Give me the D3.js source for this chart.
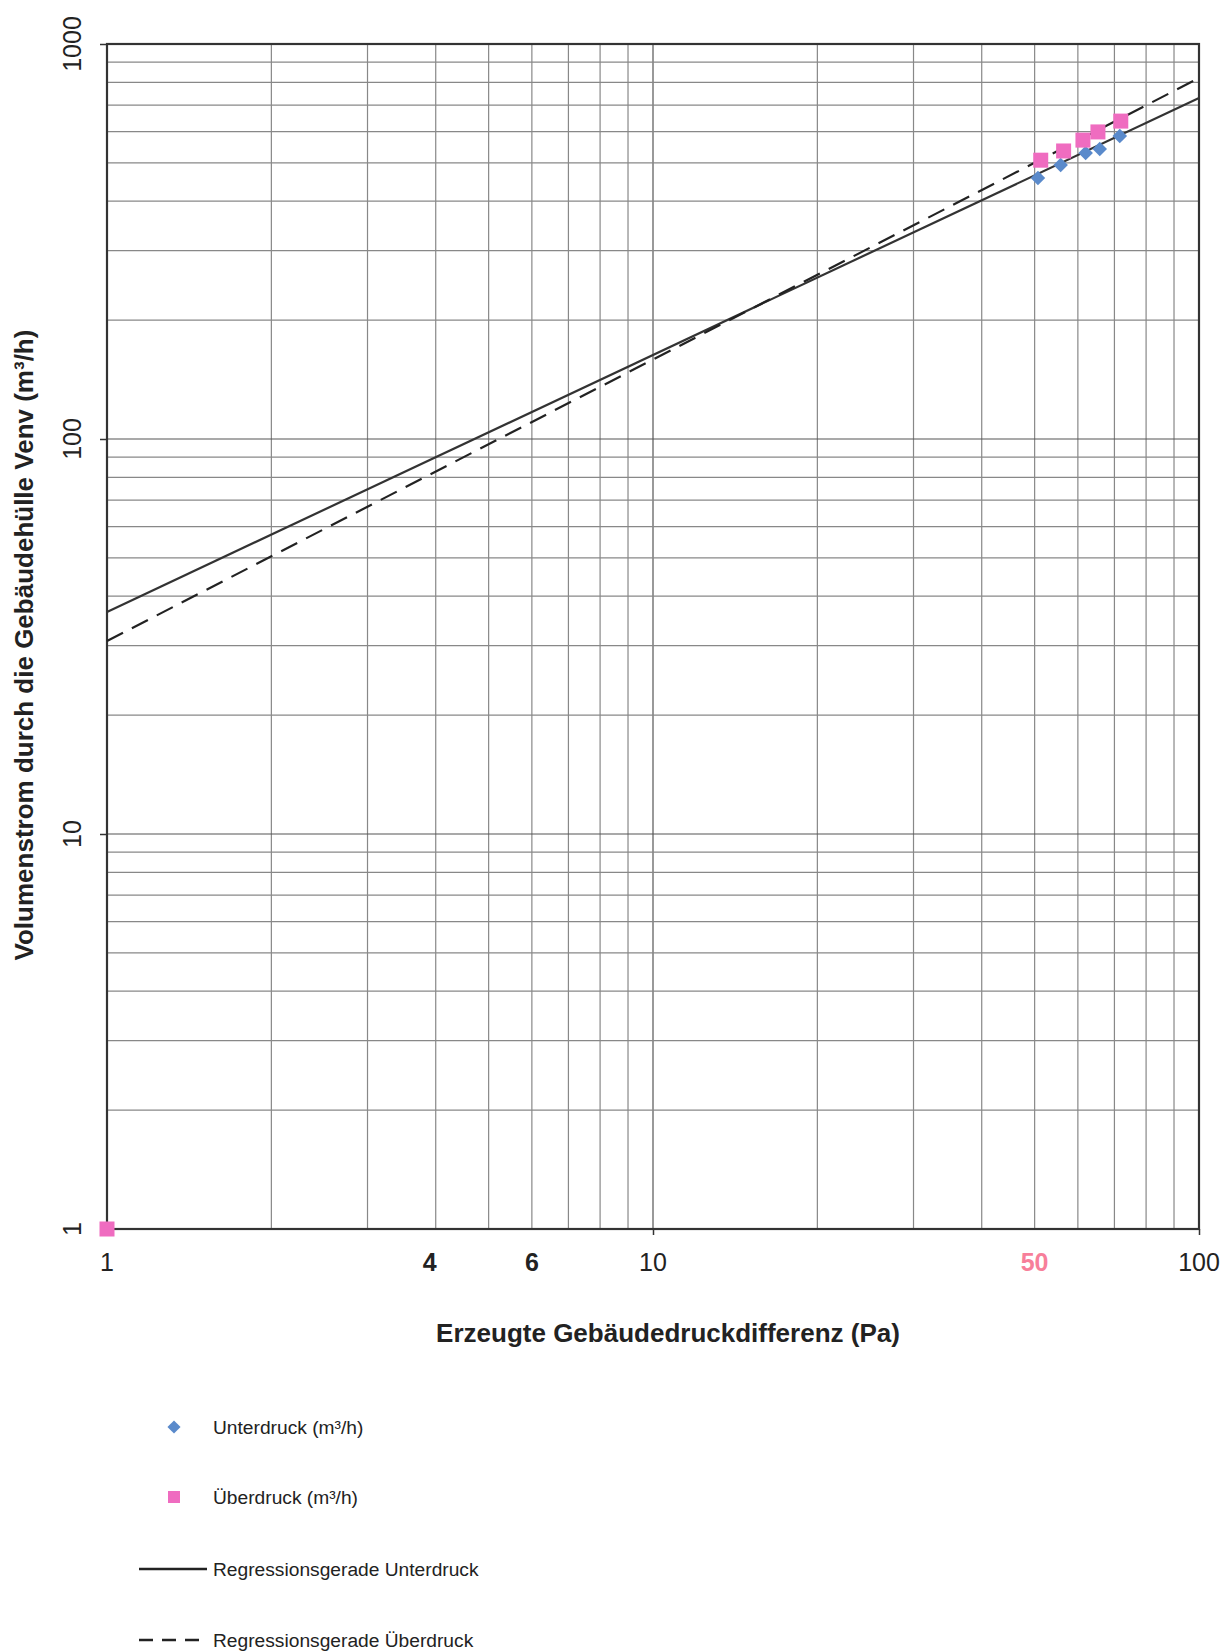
<!DOCTYPE html>
<html>
<head>
<meta charset="utf-8">
<script src="https://cdn.jsdelivr.net/npm/d3@7"></script>
<style>
  body { margin: 0; background: #fff; }
  svg { display: block; font-family: Arial, "Liberation Sans", sans-serif; }
</style>
</head>
<body>
<svg id="chart" width="1221" height="1652"></svg>
<script>
// measured points (Pa, m3/h)
var unterdruckX = [50.7, 55.8, 62.0, 65.8, 71.6];
var unterdruckY = [458, 494, 530, 542, 585];
var ueberdruckX = [1, 51.3, 56.5, 61.3, 65.3, 71.9];
var ueberdruckY = [1, 508, 536, 571, 599, 638];
// regression lines, read at both ends of the x range
var regX = [1, 100];
var regUnterY = [36.5, 730];
var regUeberY = [30.8, 820];
// tick labels
var xTickLabels = [1, 4, 6, 10, 50, 100];
var yTickLabels = [1, 10, 100, 1000];
var xTitle = "Erzeugte Gebäudedruckdifferenz (Pa)";
var yTitle = "Volumenstrom durch die Gebäudehülle Venv (m³/h)";
var legendLabels = ["Unterdruck (m³/h)", "Überdruck (m³/h)", "Regressionsgerade Unterdruck", "Regressionsgerade Überdruck"];

var svg = d3.select("#chart");
var plotLeft = 107, plotRight = 1199, plotTop = 44, plotBottom = 1229;

var x = d3.scaleLog().domain([1, 100]).range([plotLeft, plotRight]);
var y = d3.scaleLog().domain([1, 1000]).range([plotBottom, plotTop]);

var pink = "#ef6cc0", blue = "#5a8acb";

// grid: every integer step of each decade
var xGrid = x.ticks(20).filter(function (d) { return d > 1 && d < 100; });
var yGrid = y.ticks(30).filter(function (d) { return d > 1 && d < 1000; });

var grid = svg.append("g");
grid.selectAll(".gx").data(xGrid).enter().append("line")
    .attr("x1", function (d) { return x(d); }).attr("x2", function (d) { return x(d); })
    .attr("y1", plotTop).attr("y2", plotBottom)
    .attr("stroke", function (d) { return (d === 10) ? "#555" : "#888"; })
    .attr("stroke-width", 1.2);
grid.selectAll(".gy").data(yGrid).enter().append("line")
    .attr("y1", function (d) { return y(d); }).attr("y2", function (d) { return y(d); })
    .attr("x1", plotLeft).attr("x2", plotRight)
    .attr("stroke", function (d) { return (d === 10 || d === 100) ? "#555" : "#888"; })
    .attr("stroke-width", 1.2);

// frame
svg.append("rect").attr("x", plotLeft).attr("y", plotTop)
    .attr("width", plotRight - plotLeft).attr("height", plotBottom - plotTop)
    .attr("fill", "none").attr("stroke", "#333").attr("stroke-width", 2.2);

// axes (ticks only, labels drawn by hand for the mixed styles)
var xAxis = svg.append("g").attr("transform", "translate(0," + plotBottom + ")")
    .call(d3.axisBottom(x).tickValues([1, 10, 100]).tickSize(6).tickFormat(""));
var yAxis = svg.append("g").attr("transform", "translate(" + plotLeft + ",0)")
    .call(d3.axisLeft(y).tickValues(yTickLabels).tickSize(7).tickFormat(""));
[xAxis, yAxis].forEach(function (a) {
    a.select(".domain").remove();
    a.selectAll("line").attr("stroke", "#333").attr("stroke-width", 1.5);
});

svg.append("g").selectAll("text").data(xTickLabels).enter().append("text")
    .attr("x", function (d) { return x(d) - (d === 4 ? 6 : 0); })
    .attr("y", 1271)
    .attr("text-anchor", "middle")
    .attr("font-size", 25)
    .attr("font-weight", function (d) { return (d === 4 || d === 6 || d === 50) ? "bold" : "normal"; })
    .attr("fill", function (d) { return d === 50 ? "#f77f9a" : "#222"; })
    .text(function (d) { return d; });

svg.append("g").selectAll("text").data(yTickLabels).enter().append("text")
    .attr("transform", function (d) { return "translate(81," + y(d) + ") rotate(-90)"; })
    .attr("text-anchor", "middle")
    .attr("font-size", 25)
    .attr("fill", "#222")
    .text(function (d) { return d; });

// titles
svg.append("text").attr("x", 668).attr("y", 1342)
    .attr("text-anchor", "middle").attr("font-size", 26).attr("font-weight", "bold")
    .attr("fill", "#222").text(xTitle);
svg.append("text").attr("transform", "translate(33,645) rotate(-90)")
    .attr("text-anchor", "middle").attr("font-size", 26).attr("font-weight", "bold")
    .attr("fill", "#222").text(yTitle);

// regression lines
var line = d3.line().x(function (d) { return x(d[0]); }).y(function (d) { return y(d[1]); });
var plot = svg.append("g");
plot.append("path").datum(d3.zip(regX, regUnterY)).attr("d", line)
    .attr("fill", "none").attr("stroke", "#333").attr("stroke-width", 2.2);
plot.append("path").datum(d3.zip(regX, regUeberY)).attr("d", line)
    .attr("fill", "none").attr("stroke", "#222").attr("stroke-width", 2.2)
    .attr("stroke-dasharray", "18,10");

// points
var diamond = d3.symbol().type(d3.symbolDiamond2).size(135);
plot.selectAll(".ud").data(d3.zip(unterdruckX, unterdruckY)).enter().append("path")
    .attr("d", diamond)
    .attr("transform", function (d) { return "translate(" + x(d[0]) + "," + y(d[1]) + ")"; })
    .attr("fill", blue);
plot.selectAll(".ue").data(d3.zip(ueberdruckX, ueberdruckY)).enter().append("rect")
    .attr("x", function (d) { return x(d[0]) - 7.5; })
    .attr("y", function (d) { return y(d[1]) - 7.5; })
    .attr("width", 15).attr("height", 15)
    .attr("fill", pink);

// legend
var lg = svg.append("g");
var legY = [1427, 1497, 1569, 1640];
lg.append("path").attr("d", d3.symbol().type(d3.symbolDiamond2).size(110))
    .attr("transform", "translate(174," + legY[0] + ")").attr("fill", blue);
lg.append("rect").attr("x", 168).attr("y", legY[1] - 6).attr("width", 12).attr("height", 12)
    .attr("fill", pink);
lg.append("line").attr("x1", 139).attr("x2", 207).attr("y1", legY[2]).attr("y2", legY[2])
    .attr("stroke", "#222").attr("stroke-width", 2.5);
lg.append("line").attr("x1", 139).attr("x2", 207).attr("y1", legY[3]).attr("y2", legY[3])
    .attr("stroke", "#222").attr("stroke-width", 2.5).attr("stroke-dasharray", "14,9");
lg.selectAll("text").data(legendLabels).enter().append("text")
    .attr("x", 213)
    .attr("y", function (d, i) { return legY[i] + 7; })
    .attr("font-size", 19.2)
    .attr("fill", "#222")
    .text(function (d) { return d; });
</script>
</body>
</html>
